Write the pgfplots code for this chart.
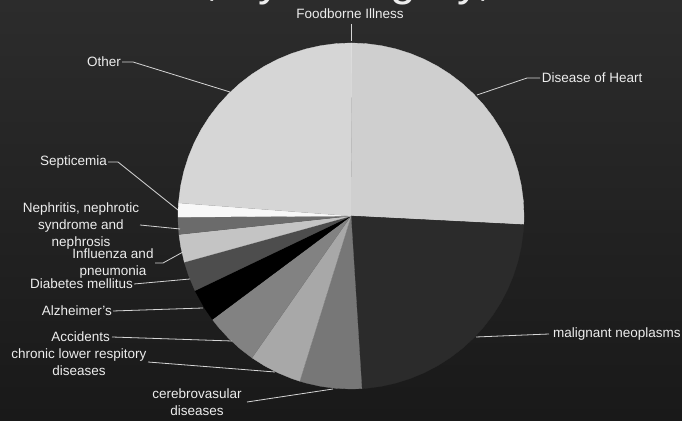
\documentclass[border=0pt]{standalone}
\usepackage{pgfplots}
\pgfplotsset{compat=1.18}
\usepackage{fontspec}
\setmainfont{Liberation Sans}
\definecolor{bgtop}{HTML}{2C2C2C}
\definecolor{bgbot}{HTML}{191919}
\definecolor{txt}{HTML}{EDEDED}
\definecolor{cFood}{HTML}{E2E2E2}
\definecolor{cHeart}{HTML}{CFCFCF}
\definecolor{cMal}{HTML}{2B2B2B}
\definecolor{cCere}{HTML}{777777}
\definecolor{cChron}{HTML}{A8A8A8}
\definecolor{cAcc}{HTML}{828282}
\definecolor{cAlz}{HTML}{000000}
\definecolor{cDiab}{HTML}{4D4D4D}
\definecolor{cFlu}{HTML}{C4C4C4}
\definecolor{cNeph}{HTML}{6B6B6B}
\definecolor{cSept}{HTML}{F8F8F8}
\definecolor{cOther}{HTML}{D6D6D6}
% Shares (%): Foodborne 0.1, Heart 25.7, Malignant 23.2, Cerebrovascular 5.8,
% Chronic lower resp. 4.9, Accidents 5.1, Alzheimer's 3.1, Diabetes 2.8,
% Influenza 2.6, Nephritis 1.6, Septicemia 1.3, Other 23.8
% Wedge boundaries (deg, clockwise from 90): 90, 89.64, -2.88, -86.4, -107.28,
% -124.92, -143.28, -154.44, -164.52, -173.88, -179.64, -184.32, -270
\begin{document}
\begin{tikzpicture}[
  lbl/.style={font=\fontsize{13.5}{17}\selectfont, text=txt, inner sep=0pt, align=center},
  ld/.style={draw=txt!90!black, line width=0.8pt},
]
\begin{axis}[
  scale only axis, width=682pt, height=420pt,
  xmin=-351, xmax=331, ymin=-204, ymax=216,
  axis lines=none, ticks=none, clip=false,
  axis background/.style={top color=bgtop, bottom color=bgbot},
  wedge/.style={data cs=polar, line width=0.3pt},
]
\addplot[wedge, fill=cFood, draw=cFood] coordinates {(0,0) (90,173) (89.64,173)};
\addplot[wedge, fill=cHeart, draw=cHeart] coordinates {(0,0) (89.64,173) (85,173) (80,173) (75,173) (70,173) (65,173) (60,173) (55,173) (50,173) (45,173) (40,173) (35,173) (30,173) (25,173) (20,173) (15,173) (10,173) (5,173) (0,173) (-2.88,173)};
\addplot[wedge, fill=cMal, draw=cMal] coordinates {(0,0) (-2.88,173) (-5,173) (-10,173) (-15,173) (-20,173) (-25,173) (-30,173) (-35,173) (-40,173) (-45,173) (-50,173) (-55,173) (-60,173) (-65,173) (-70,173) (-75,173) (-80,173) (-85,173) (-86.4,173)};
\addplot[wedge, fill=cCere, draw=cCere] coordinates {(0,0) (-86.4,173) (-90,173) (-95,173) (-100,173) (-105,173) (-107.28,173)};
\addplot[wedge, fill=cChron, draw=cChron] coordinates {(0,0) (-107.28,173) (-110,173) (-115,173) (-120,173) (-124.92,173)};
\addplot[wedge, fill=cAcc, draw=cAcc] coordinates {(0,0) (-124.92,173) (-130,173) (-135,173) (-140,173) (-143.28,173)};
\addplot[wedge, fill=cAlz, draw=cAlz] coordinates {(0,0) (-143.28,173) (-148,173) (-154.44,173)};
\addplot[wedge, fill=cDiab, draw=cDiab] coordinates {(0,0) (-154.44,173) (-160,173) (-164.52,173)};
\addplot[wedge, fill=cFlu, draw=cFlu] coordinates {(0,0) (-164.52,173) (-170,173) (-173.88,173)};
\addplot[wedge, fill=cNeph, draw=cNeph] coordinates {(0,0) (-173.88,173) (-177,173) (-179.64,173)};
\addplot[wedge, fill=cSept, draw=cSept] coordinates {(0,0) (-179.64,173) (-182,173) (-184.32,173)};
\addplot[wedge, fill=cOther, draw=cOther] coordinates {(0,0) (-184.32,173) (-190,173) (-195,173) (-200,173) (-205,173) (-210,173) (-215,173) (-220,173) (-225,173) (-230,173) (-235,173) (-240,173) (-245,173) (-250,173) (-255,173) (-260,173) (-265,173) (-270,173)};

% title (mostly above the picture, only its descenders show)
\node[font=\fontsize{46}{52}\selectfont, text=txt, anchor=base west, inner sep=0pt] at (axis cs:-290,220.5) {Deaths, by Category, 2010};

% leader lines
\draw[ld] (axis cs:0,192) -- (axis cs:0,175);
\draw[ld] (axis cs:189,138) -- (axis cs:176,138) -- (axis cs:126,121);
\draw[ld] (axis cs:198,-118) -- (axis cs:125,-121);
\draw[ld] (axis cs:-104,-186) -- (axis cs:-18,-173);
\draw[ld] (axis cs:-203,-146) -- (axis cs:-76,-156);
\draw[ld] (axis cs:-239,-121) -- (axis cs:-119,-125);
\draw[ld] (axis cs:-238,-95) -- (axis cs:-148,-92);
\draw[ld] (axis cs:-217,-68) -- (axis cs:-161,-63);
\draw[ld] (axis cs:-196,-47) -- (axis cs:-188,-47) -- (axis cs:-168,-36);
\draw[ld] (axis cs:-211,-9) -- (axis cs:-171,-13);
\draw[ld] (axis cs:-243,54) -- (axis cs:-233,54) -- (axis cs:-173,6);
\draw[ld] (axis cs:-229,154) -- (axis cs:-218,154) -- (axis cs:-121,124);

% labels
\node[lbl] at (axis cs:-1,202) {Foodborne Illness};
\node[lbl, anchor=west] at (axis cs:190.7,138) {Disease of Heart};
\node[lbl, anchor=west] at (axis cs:202,-118) {malignant neoplasms};
\node[lbl] at (axis cs:-154,-186) {cerebrovasular\\diseases};
\node[lbl] at (axis cs:-272,-146.5) {chronic lower respitory\\diseases};
\node[lbl, anchor=east] at (axis cs:-241,-121) {Accidents};
\node[lbl, anchor=east] at (axis cs:-239,-95) {Alzheimer's};
\node[lbl, anchor=east] at (axis cs:-218,-68) {Diabetes mellitus};
\node[lbl] at (axis cs:-238,-47.5) {Influenza and\\pneumonia};
\node[lbl] at (axis cs:-270,-10) {Nephritis, nephrotic\\syndrome and\\nephrosis};
\node[lbl, anchor=east] at (axis cs:-244,54) {Septicemia};
\node[lbl, anchor=east] at (axis cs:-230,154) {Other};
\end{axis}
\pgfresetboundingbox
\useasboundingbox (current axis.south west) rectangle (current axis.north east);
\end{tikzpicture}
\end{document}
